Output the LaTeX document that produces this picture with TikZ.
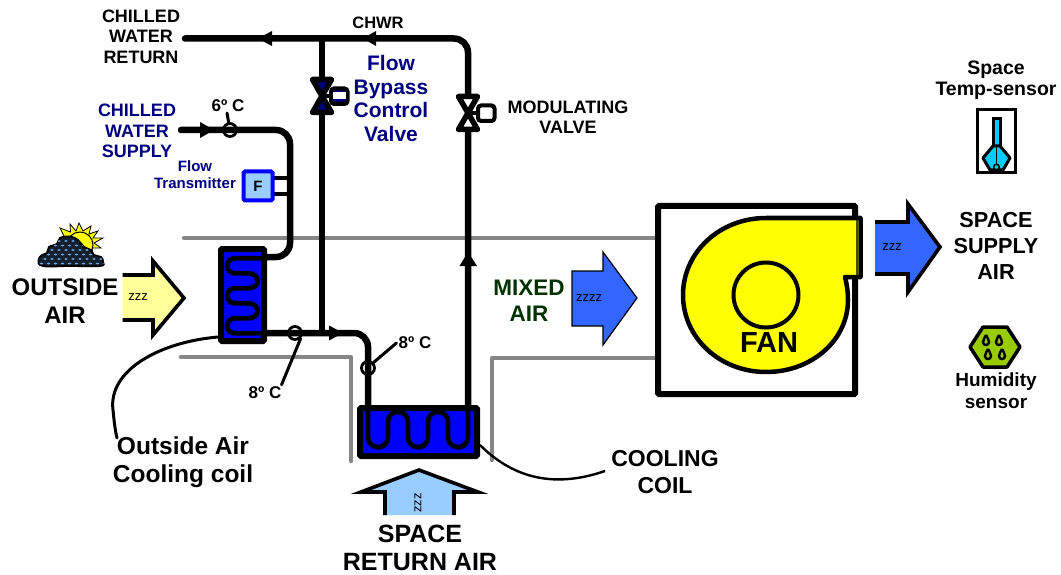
\documentclass[tikz,border=0pt]{standalone}
\usepackage{fontspec}
\setmainfont{Liberation Sans}
\definecolor{navyt}{HTML}{000080}
\definecolor{ductgray}{HTML}{868686}
\definecolor{coilblue}{HTML}{0000FF}
\definecolor{airblue}{HTML}{3366FF}
\definecolor{paleblue}{HTML}{99CCFF}
\definecolor{paleyellow}{HTML}{FFFF99}
\definecolor{puresun}{RGB}{255,255,0}
\definecolor{darkgreen}{HTML}{003300}
\definecolor{humgreen}{HTML}{99CC00}
\definecolor{sensorcyan}{HTML}{00CCFF}
\definecolor{cloudink}{HTML}{14202E}
\definecolor{clouddot}{HTML}{6FA8DC}
\tikzset{
  lab/.style={align=center,inner sep=0pt,font=\fontsize{#1}{1.14\dimexpr #1pt\relax}\bfseries\selectfont},
  lab/.default=18,
  pipe/.style={line width=6.5pt,line cap=round,rounded corners=14pt},
  coilbody/.style={draw,fill=coilblue,line width=6pt,rounded corners=1pt,minimum width=0pt,inner sep=0pt},
  serp/.style={line width=4.8pt,line cap=round},
  duct/.style={draw=ductgray,line width=4.5pt,line cap=round,line join=round},
  leader/.style={line width=3pt,line cap=round},
  probe/.style={draw,circle,line width=2.8pt,minimum size=13pt,inner sep=0pt},
  airedge/.style={line width=3.6pt,miter limit=10},
  zzzt/.style={inner sep=0pt,font=\fontsize{13}{15}\selectfont},
  tipfill/.style={fill=black}
}
\newcommand{\hvacvalve}[3]{%
  \begin{scope}[shift={(#1,#2)}]
    \draw[line width=5.5pt,line join=round,fill=#3] (-9.5,-16.5) -- (9.5,-16.5) -- (-9.5,16.5) -- (9.5,16.5) -- cycle;
    \draw[line width=3.5pt] (0,0) -- (10,0);
  \end{scope}}
\begin{document}
\begin{tikzpicture}[x=1pt,y=-1pt]
\useasboundingbox (0,0) rectangle (1061,575);
% ducts
\draw[duct] (184,238) -- (657,238);
\draw[duct] (181,357) -- (351,357) -- (351,461);
\draw[duct] (657,358) -- (492,358) -- (492,460);
% named ends
\node[coordinate] (chwrEnd) at (185,38.5) {};
\node[coordinate] (chwsIn) at (181,130) {};
\node[coordinate] (coilOneIn) at (266,257) {};
\node[coordinate] (coilOneOut) at (266,333) {};
\node[coordinate] (coilTwoIn) at (368,406) {};
\node[coordinate] (coilTwoOut) at (468,406) {};
\node[coordinate] (teeTop) at (322,38.5) {};
\node[coordinate] (teeLow) at (322,333) {};
\node[coordinate] (oaLeadStart) at (218,337) {};
\node[coordinate] (oaLeadEnd) at (117,438) {};
\node[coordinate] (ccLeadStart) at (480,445) {};
\node[coordinate] (ccLeadEnd) at (605,471) {};
% pipes
\draw[pipe] (chwsIn) -- (290,130) -- (290,257) -- (coilOneIn);
\draw[pipe] (coilOneOut) -- (368,333) -- (coilTwoIn);
\draw[pipe] (coilTwoOut) -- (468,38.5) -- (chwrEnd);
\draw[line width=6pt] (teeTop) -- (teeLow);
% inline arrows
\fill[tipfill] (258,38.5) -- (272,31) -- (272,46) -- cycle;
\fill[tipfill] (363,38.5) -- (376,31) -- (376,46) -- cycle;
\fill[tipfill] (214,130) -- (200,122) -- (200,138) -- cycle;
\fill[tipfill] (343,333) -- (329,325.5) -- (329,340.5) -- cycle;
\fill[tipfill] (468,252) -- (459.5,266) -- (477,266) -- cycle;
% valves
\hvacvalve{322}{96}{navyt}
\draw[line width=4pt,rounded corners=3pt,fill=navyt] (331,88.5) rectangle (347.5,104);
\fill[white] (333,92.5) rectangle (345.5,99.5);
\hvacvalve{468}{113}{white}
\draw[line width=4pt,rounded corners=3pt,fill=white] (478,105.5) rectangle (494.5,121);
% flow transmitter
\draw[line width=4pt] (272,178) -- (290,178);
\draw[line width=4pt] (272,194) -- (290,194);
\node[draw=coilblue,fill=paleblue,line width=4pt,rounded corners=1.5pt,minimum width=29pt,minimum height=29pt,inner sep=0pt,font=\fontsize{15}{17}\bfseries\selectfont] (ft) at (258,186) {F};
% probes and leaders
\node[probe] (probeSix) at (230,130) {};
\node[probe] (probeEightA) at (295,333) {};
\node[probe] (probeEightB) at (368,368) {};
\node[lab=17] (tSix) at (228,106) {6º C};
\node[lab=17] (tEightA) at (265,393) {8º C};
\node[lab=17] (tEightB) at (415,343) {8º C};
\draw[leader] (227,113) -- (probeSix);
\draw[leader] (tEightA.north east) ++(0,-2) -- (probeEightA.south east);
\draw[leader] (tEightB.west) ++(-2,0) -- (probeEightB.north east);
% outside coil
\node[coilbody,minimum width=43pt,minimum height=92pt] (coilOne) at (242.5,295) {};
\draw[serp] (264,258.3) -- (235,258.3) .. controls (224.5,258.3) and (224.5,273.3) .. (235,273.3) -- (248,273.3) .. controls (261,273.3) and (261,288.3) .. (248,288.3) -- (235,288.3) .. controls (224.5,288.3) and (224.5,303.3) .. (235,303.3) -- (248,303.3) .. controls (261,303.3) and (261,318.3) .. (248,318.3) -- (235,318.3) .. controls (224.5,318.3) and (224.5,333.3) .. (235,333.3) -- (264,333.3);
% main coil
\node[coilbody,minimum width=117pt,minimum height=48pt] (coilTwo) at (418.5,432) {};
\draw[serp] (368,406) -- (368,437) .. controls (368,450.5) and (388,450.5) .. (388,437) -- (388,422) .. controls (388,408.5) and (408,408.5) .. (408,422) -- (408,437) .. controls (408,450.5) and (428,450.5) .. (428,437) -- (428,422) .. controls (428,408.5) and (448,408.5) .. (448,422) -- (448,437) .. controls (448,450.5) and (468,450.5) .. (468,437) -- (468,406);
% fan
\node[draw,line width=6pt,rounded corners=1pt,minimum width=197pt,minimum height=188pt,inner sep=0pt] (fanbox) at (756.5,300) {};
\draw[line width=4.5pt,fill=puresun,line join=round] (860.5,218) -- (766,218) .. controls (720,218) and (683,252) .. (683,295) .. controls (683,338) and (720,372) .. (766,372) .. controls (812,372) and (848,340) .. (848,300) .. controls (848,292) and (847,285) .. (845,277) -- (860.5,277) -- cycle;
\draw[line width=1.5pt,draw=black!70!puresun] (857,220) -- (857,275);
\node[draw,circle,line width=4pt,minimum size=65pt,inner sep=0pt,fill=puresun] (impeller) at (766,295) {};
\node[lab=29] (tFan) at (769,343) {FAN};
% air arrows
\fill[paleyellow] (122.5,275) -- (153,275) -- (153,261) -- (184,298) -- (153,335) -- (153,320) -- (122.5,320) -- cycle;
\draw[airedge] (122.5,275) -- (153,275) -- (153,261) -- (184,298) -- (153,335) -- (153,320) -- (122.5,320);
\node[zzzt] (zOut) at (138,297) {zzz};
\fill[airblue,draw=black,line width=1.2pt] (572,271) -- (603,271) -- (603,252) -- (637,298) -- (603,345) -- (603,326) -- (572,326) -- cycle;
\node[zzzt] (zMix) at (589,298) {zzzz};
\fill[airblue] (875,222) -- (908,222) -- (908,204) -- (940,247) -- (908,292) -- (908,274) -- (875,274) -- cycle;
\draw[airedge] (875,222) -- (908,222) -- (908,204) -- (940,247) -- (908,292) -- (908,274) -- (875,274);
\node[zzzt] (zSup) at (892,247) {zzz};
\fill[paleblue] (385,515) -- (385,492) -- (361,492) -- (419,470) -- (478,492) -- (454,492) -- (454,515) -- cycle;
\draw[airedge] (385,515) -- (385,492) -- (361,492) -- (419,470) -- (478,492) -- (454,492) -- (454,515);
\node[zzzt,rotate=90] (zRet) at (418,503) {zzz};
% labels
\node[lab=18] (tChwr) at (141,36.5) {CHILLED\\WATER\\RETURN};
\node[lab=18,text=navyt] (tChws) at (137,131) {CHILLED\\WATER\\SUPPLY};
\node[lab=15,text=navyt] (tFlow) at (195,175) {Flow\\Transmitter};
\node[lab=16.5] (tChwrShort) at (378,23) {CHWR};
\node[lab=21,text=navyt] (tBypass) at (391,98.5) {Flow\\Bypass\\Control\\Valve};
\node[lab=18] (tMod) at (568,117) {MODULATING\\VALVE};
\node[lab=24] (tOutside) at (65,301) {OUTSIDE\\AIR};
\node[lab=22.5,text=darkgreen] (tMixed) at (529,300.5) {MIXED\\AIR};
\node[lab=21.7] (tSupply) at (996,246) {SPACE\\[1.5pt]SUPPLY\\[1.5pt]AIR};
\node[lab=19.5] (tTemp) at (996,80) {Space\\[-1pt]Temp-sensor};
\node[lab=19] (tHum) at (996,391) {Humidity\\sensor};
\node[lab=24.5] (tOac) at (183,462) {Outside Air\\Cooling coil};
\node[lab=23] (tCool) at (665,472) {COOLING\\COIL};
\node[lab=25] (tRet) at (420,548) {SPACE\\RETURN AIR};
% coil leaders
\draw[leader] (oaLeadStart) .. controls (160,342) and (108,370) .. (113,410) .. controls (114,420) and (115,430) .. (oaLeadEnd);
\draw[line width=2.4pt] (ccLeadStart) .. controls (510,475) and (550,490) .. (ccLeadEnd);
% temp sensor
\node[draw,line width=3.5pt,minimum width=38pt,minimum height=63pt,inner sep=0pt] (tempBox) at (996.5,141) {};
\draw[line width=3pt,fill=sensorcyan] (993,119) rectangle (1000,147);
\draw[line width=3pt,fill=sensorcyan,line join=round] (993,146) -- (1000,146) -- (1010,158) -- (1003,170) -- (990,170) -- (983,158) -- cycle;
\draw[line width=1.5pt] (996.5,147) -- (996.5,165);
\draw[line width=1.5pt,fill=sensorcyan] (996.5,167) circle[radius=2.8];
% humidity sensor
\draw[line width=3.5pt,fill=humgreen,line join=round] (970,347) -- (983,327) -- (1007,327) -- (1020,347) -- (1007,367) -- (983,367) -- cycle;
\foreach \dx/\dy in {986/341,999/341,988/355,1002/355}{
  \draw[line width=2.4pt,fill=humgreen] (\dx,\dy-6) .. controls (\dx+1,\dy-3) and (\dx+3,\dy-2) .. (\dx+3,\dy+1) .. controls (\dx+3,\dy+5) and (\dx-3,\dy+5) .. (\dx-3,\dy+1) .. controls (\dx-3,\dy-2) and (\dx-1,\dy-3) .. (\dx,\dy-6);
}
% sun and cloud
\draw[line width=.8pt,fill=puresun,line join=miter] (60,228) -- (70.5,232) -- (70,224) -- (76,231) -- (79,223) -- (83,231) -- (91,226) -- (89,234) -- (98,231) -- (93,238) -- (103,238) -- (94,243) -- (101,248) -- (92,248) -- (93,258) -- (80,258) -- (66,240) -- cycle;
\draw[line width=1pt,fill=puresun] (80,245) circle[radius=13];
\draw[line width=1.8pt,fill=cloudink] plot[smooth cycle,tension=.7] coordinates {(38.5,260) (42,255) (47,253) (49,247) (57,244) (60,238) (70,236.5) (78,240) (84,247) (91,250) (94,255) (101,257) (103,262) (100,266) (70,266) (43,266)};
\begin{scope}
\clip plot[smooth cycle,tension=.7] coordinates {(38.5,260) (42,255) (47,253) (49,247) (57,244) (60,238) (70,236.5) (78,240) (84,247) (91,250) (94,255) (101,257) (103,262) (100,266) (70,266) (43,266)};
\foreach \ry/\off in {241/0,245.5/3.5,250/0,254.5/3.5,259/0,263.5/3.5}{
  \foreach \rx in {38,45,...,108}{
    \fill[clouddot] (\rx+\off,\ry) ellipse[x radius=1.9,y radius=1];
  }
}
\end{scope}
\end{tikzpicture}
\end{document}
